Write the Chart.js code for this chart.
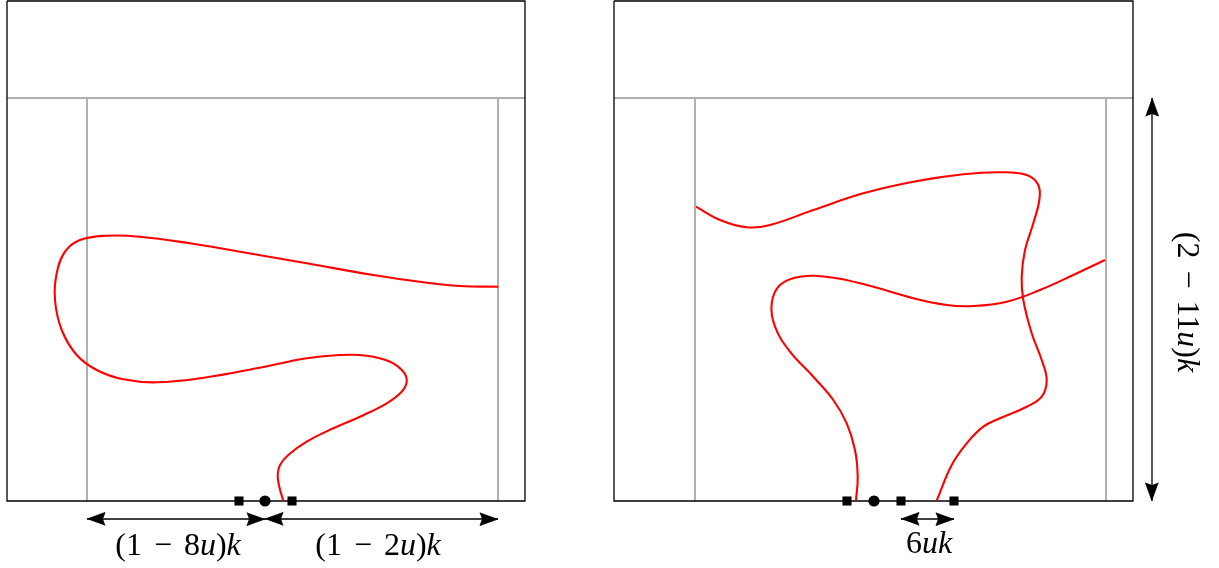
<!DOCTYPE html>
<html><head><meta charset="utf-8">
<script src="https://cdn.jsdelivr.net/npm/chart.js@4/dist/chart.umd.min.js"></script>
<style>html,body{margin:0;padding:0;background:#fff;}canvas{display:block;}</style>
</head><body>
<canvas id="c" width="1219" height="568"></canvas>
<script>
const W = 1219, H = 568;

// Panel frames: [x0, y0, x1, y1]
const panelFrames = [[7, 1, 525, 501], [614, 1, 1133, 501]];
// Gray guide segments: [x0, y0, x1, y1]
const grayLines = [
  [7, 98, 525, 98], [87, 98, 87, 501], [498, 98, 498, 501],
  [614, 98, 1133, 98], [695, 98, 695, 501], [1106, 98, 1106, 501]
];
// Red paths
const leftCurve = [[283.3,500.7],[279.3,486.7],[277.7,475],[280,465],[288.3,455],[306.7,441.7],[333.3,428.3],[360,416.7],[386.7,403.3],[401.7,391.7],[406.7,381.7],[403.3,371.7],[390,361.7],[366.7,355.7],[340,355],[306.7,358.3],[256.7,368.3],[206.7,377.3],[156.7,382.3],[123.3,379.3],[96.7,370],[76.7,355],[61.7,330],[55,300],[56.7,273.3],[65,251.7],[80,240],[106.7,235.7],[140,236.7],[190,243.3],[240,251.7],[306.7,263.3],[373.3,275],[423.3,282.3],[460,286],[498.3,286.7]];
const rightCurveA = [[696,206.7],[720,220],[746.7,227.3],[770,225],[813.3,210],[863.3,193.3],[913.3,181.7],[963.3,174.3],[1000,172.3],[1026.7,175],[1038.3,185],[1039.3,200],[1033.3,223.3],[1025,250],[1021.7,276.7],[1023.3,300],[1031.7,333.3],[1041.7,360],[1046.7,380],[1041.7,396.7],[1026.7,406.7],[1000,418.3],[983.3,426.7],[966.7,443.3],[951.7,465],[936.7,500.7]];
const rightCurveB = [[856,500.7],[857.7,476.7],[855,450],[846.7,423.3],[833.3,400],[813.3,376.7],[790,351.7],[775,326.7],[771.7,303.3],[780,285],[800,276.7],[830,277.3],[866.7,285],[913.3,298.3],[946.7,305],[973.3,306],[1006.7,301.7],[1040,290],[1073.3,275],[1105,260]];
// Markers on the bottom edge
const squareMarks = [[239,501],[292,501],[847,501],[901,501],[954,501]];
const circleMarks = [[265,501],[874,501]];
// Double-headed dimension arrows: [x0, y0, x1, y1]
const dimArrows = [[87,519,265,519],[265,519,498,519],[901,519,954,519],[1152,98,1152,501]];
// Labels: parts [text, italic?], anchor [x, y, rotation deg]
const labelParts = [
  [["(1 − 8", 0], ["u", 1], [")", 0], ["k", 1]],
  [["(1 − 2", 0], ["u", 1], [")", 0], ["k", 1]],
  [["6", 0], ["u", 1], ["k", 1]],
  [["(2 − 11", 0], ["u", 1], [")", 0], ["k", 1]]
];
const labelAnchors = [[178, 555, 0], [378, 555, 0], [929, 553, 0], [1178, 302, 90]];

const toPts = a => a.map(p => ({x: p[0], y: p[1]}));
const datasets = [];
function lineDS(pts, color, width, order, extra) {
  return Object.assign({type: 'line', data: toPts(pts), borderColor: color, backgroundColor: color,
    borderWidth: width, pointRadius: 0, pointHoverRadius: 0, tension: 0, fill: false, clip: false, order: order}, extra || {});
}
grayLines.forEach(s => datasets.push(lineDS([[s[0],s[1]],[s[2],s[3]]], '#b0b0b0', 2, 5)));
panelFrames.forEach(f => datasets.push(lineDS([[f[0],f[1]],[f[2],f[1]],[f[2],f[3]],[f[0],f[3]],[f[0],f[1]]], '#000', 1.3, 4)));
[leftCurve, rightCurveA, rightCurveB].forEach(c => datasets.push(lineDS(c, '#ff0000', 2.1, 3, {tension: 0.4, borderCapStyle: 'butt', borderJoinStyle: 'round'})));

function headPoly(tx, ty, fx, fy) {
  const L = 18, w = 6.5, notch = 2.5;
  let dx = tx - fx, dy = ty - fy; const d = Math.hypot(dx, dy); dx /= d; dy /= d;
  const nx = -dy, ny = dx;
  return [[tx, ty], [tx - L*dx + w*nx, ty - L*dy + w*ny], [tx - (L-notch)*dx, ty - (L-notch)*dy], [tx - L*dx - w*nx, ty - L*dy - w*ny]];
}
dimArrows.forEach(a => {
  datasets.push(lineDS([[a[0],a[1]],[a[2],a[3]]], '#000', 1.3, 2));
  datasets.push(lineDS(headPoly(a[0],a[1],a[2],a[3]), '#000', 0.8, 1, {fill: 'shape'}));
  datasets.push(lineDS(headPoly(a[2],a[3],a[0],a[1]), '#000', 0.8, 1, {fill: 'shape'}));
});
datasets.push({type: 'scatter', data: toPts(squareMarks), pointStyle: 'rect', pointRadius: 6.4, pointBackgroundColor: '#000', pointBorderWidth: 0, clip: false, order: 0});
datasets.push({type: 'scatter', data: toPts(circleMarks), pointStyle: 'circle', pointRadius: 5.6, pointBackgroundColor: '#000', pointBorderWidth: 0, clip: false, order: 0});

const labelPlugin = {
  id: 'mathLabels',
  afterDatasetsDraw(chart) {
    const ctx = chart.ctx, xs = chart.scales.x, ys = chart.scales.y;
    labelParts.forEach((parts, i) => {
      const [ax, ay, rot] = labelAnchors[i];
      ctx.save();
      ctx.translate(xs.getPixelForValue(ax), ys.getPixelForValue(ay));
      ctx.rotate(rot * Math.PI / 180);
      ctx.fillStyle = '#000';
      ctx.textBaseline = 'alphabetic';
      ctx.textAlign = 'left';
      if ('wordSpacing' in ctx) ctx.wordSpacing = '4px';
      const fontFor = it => (it ? 'italic ' : '') + '32px "Liberation Serif", "DejaVu Serif", serif';
      let total = 0;
      parts.forEach(p => { ctx.font = fontFor(p[1]); total += ctx.measureText(p[0]).width; });
      let cx = -total / 2;
      parts.forEach(p => { ctx.font = fontFor(p[1]); ctx.fillText(p[0], cx, 0); cx += ctx.measureText(p[0]).width; });
      ctx.restore();
    });
  }
};

new Chart(document.getElementById('c'), {
  type: 'scatter',
  data: {datasets},
  options: {
    responsive: false, animation: false, events: [],
    layout: {padding: 0, autoPadding: false},
    plugins: {legend: {display: false}, tooltip: {enabled: false}},
    scales: {
      x: {type: 'linear', min: 0, max: W, display: false},
      y: {type: 'linear', min: 0, max: H, reverse: true, display: false}
    }
  },
  plugins: [labelPlugin]
});
</script>
</body></html>
